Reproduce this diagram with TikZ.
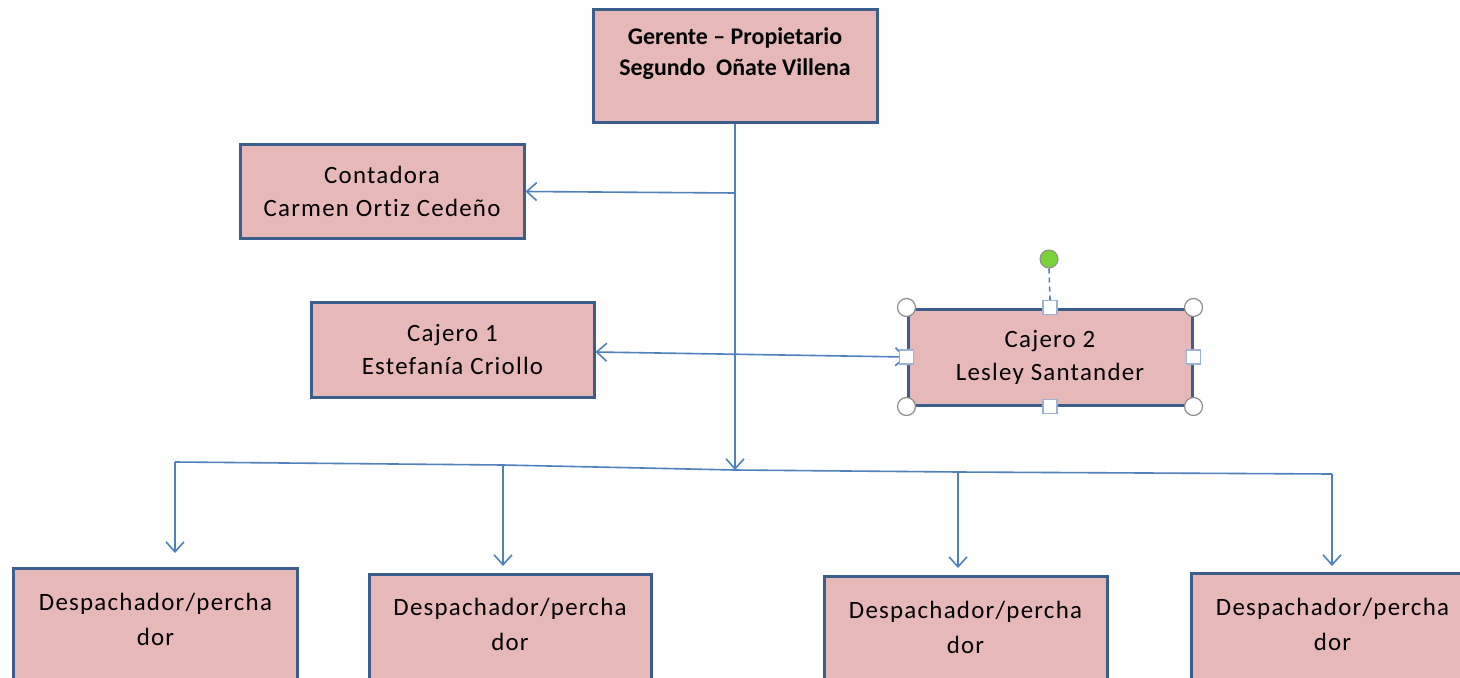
\documentclass[tikz,border=0pt]{standalone}
\usepackage{fontspec}
\setmainfont[Ligatures=NoCommon]{Carlito}
\newfontfamily\spacedfont[LetterSpace=5,Ligatures=NoCommon]{Carlito}
\usetikzlibrary{arrows.meta,calc}
\definecolor{boxfill}{HTML}{E6B9B8}
\definecolor{boxdraw}{HTML}{3B5E8C}
\definecolor{conn}{HTML}{4F81BD}
\definecolor{hgray}{HTML}{8C8C8C}
\definecolor{hblue}{HTML}{9DB3CF}
\definecolor{hgreen}{HTML}{7AD23A}
\tikzset{
  orgbox/.style={rectangle, draw=boxdraw, line width=3bp, fill=boxfill, inner sep=0pt, align=center, font=\spacedfont\fontsize{25}{33}\selectfont},
  boxtext/.style={inner sep=0pt, align=center, font=\spacedfont\fontsize{25}{35}\selectfont},
  conline/.style={draw=conn, line width=1.6bp},
  tip/.style={-{Straight Barb[length=10bp,width=18bp,line width=1.6bp]}},
  handlecirc/.style={circle, draw=hgray, fill=white, line width=1.2bp, minimum size=18bp, inner sep=0pt},
  handlesq/.style={rectangle, draw=hblue, fill=white, line width=1.4bp, minimum size=14bp, inner sep=0pt},
}
\begin{document}
\begin{tikzpicture}[x=1bp,y=-1bp]
\useasboundingbox (0,0) rectangle (1460,678);
\clip (0,0) rectangle (1460,678);
\fill[white] (0,0) rectangle (1460,678);

% boxes
\node[orgbox, minimum width=284bp, minimum height=112bp] (ger) at (735,66) {};
\node[boxtext, font=\fontsize{24}{31}\selectfont\bfseries] (gert) at (735,54) {Gerente -- Propietario\\Segundo\ \ Oñate Villena};
\node[orgbox, minimum width=284bp, minimum height=93bp] (con) at (382,191.5) {Contadora\\Carmen Ortiz Cedeño};
\node[orgbox, minimum width=283bp, minimum height=95bp] (caj1) at (452.5,349.5) {Cajero 1\\Estefanía Criollo};
\node[orgbox, minimum width=284bp, minimum height=96bp] (caj2) at (1050,357) {Cajero 2\\Lesley Santander};

\node[orgbox, minimum width=283bp, minimum height=140bp] (d1) at (155.5,638) {};
\node[boxtext] (d1t) at (155.5,619) {Despachador/percha\\dor};
\node[orgbox, minimum width=282bp, minimum height=140bp] (d2) at (510,644) {};
\node[boxtext] (d2t) at (510,624) {Despachador/percha\\dor};
\node[orgbox, minimum width=283bp, minimum height=140bp] (d3) at (965.5,646) {};
\node[boxtext] (d3t) at (965.5,627) {Despachador/percha\\dor};
\node[orgbox, minimum width=283bp, minimum height=140bp] (d4) at (1332.5,643) {};
\node[boxtext] (d4t) at (1332.5,624) {Despachador/percha\\dor};

% connector coordinates
\coordinate (hub) at (735,470);
\coordinate (tcon) at (735,193);
\coordinate (c1e) at ($(caj1.east)+(0,2.5)$);
\coordinate (l1) at (175,462);
\coordinate (l2) at (503,465);
\coordinate (l3) at (958,472);
\coordinate (l4) at (1332,474);
\coordinate (e1) at (175,553);
\coordinate (e2) at (503,566);
\coordinate (e3) at (958,568);
\coordinate (e4) at (1332,566);

% connectors
\draw[conline, tip] (ger.south) -- (hub);
\draw[conline, tip] (tcon) -- (con.east);
\draw[conline, {Straight Barb[length=10bp,width=18bp,line width=1.6bp]}-{Straight Barb[length=10bp,width=18bp,line width=1.6bp]}] (c1e) -- (caj2.west);
\draw[conline] (l1) -- (l2) -- (hub) -- (l3) -- (l4);
\draw[conline, tip] (l1) -- (e1);
\draw[conline, tip] (l2) -- (e2);
\draw[conline, tip] (l3) -- (e3);
\draw[conline, tip] (l4) -- (e4);

% selection handles on Cajero 2
\node[circle, draw=hgray, fill=hgreen, line width=1bp, minimum size=18bp, inner sep=0pt] (rot) at (1049,259) {};
\node[handlesq] (hn) at (caj2.north) {};
\draw[draw=conn, line width=1.6bp, dash pattern=on 5bp off 4bp] (rot.south) -- (hn.north);
\node[handlesq] (hs) at (caj2.south) {};
\node[handlesq] (hw) at (caj2.west) {};
\node[handlesq] (he) at (caj2.east) {};
\node[handlecirc] (hnw) at (caj2.north west) {};
\node[handlecirc] (hne) at (caj2.north east) {};
\node[handlecirc] (hsw) at (caj2.south west) {};
\node[handlecirc] (hse) at (caj2.south east) {};
\end{tikzpicture}
\end{document}
